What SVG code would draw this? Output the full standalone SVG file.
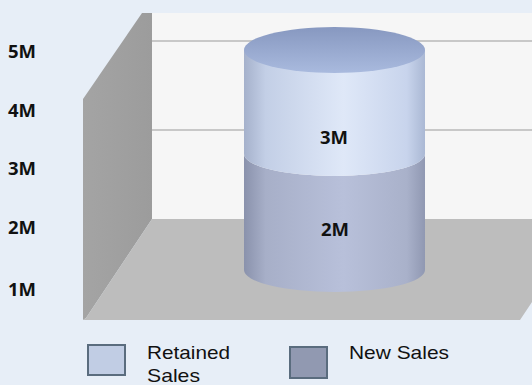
<svg xmlns="http://www.w3.org/2000/svg" width="532" height="385" viewBox="0 0 532 385">
  <style>
    .axis { font-family: "Open Sans", "DejaVu Sans", sans-serif; font-weight: bold; font-size: 18.5px; fill: #111; }
    .val { font-family: "Open Sans", "DejaVu Sans", sans-serif; font-weight: bold; font-size: 18.5px; fill: #111; text-anchor: middle; }
    .legend { font-family: "Liberation Sans", Arial, sans-serif; font-size: 19px; fill: #111; }
    .grid { stroke: #9a9a9a; stroke-width: 1.2; }
    .swatch { stroke: #5a6c7e; stroke-width: 2; }
  </style>
  <defs>
    <linearGradient id="retBody" x1="0" y1="0" x2="1" y2="0">
      <stop offset="0" stop-color="#a5b1cb"/>
      <stop offset="0.12" stop-color="#c3cfe6"/>
      <stop offset="0.55" stop-color="#dfe8f8"/>
      <stop offset="0.9" stop-color="#c8d4ec"/>
      <stop offset="1" stop-color="#aab8d4"/>
    </linearGradient>
    <linearGradient id="newBody" x1="0" y1="0" x2="1" y2="0">
      <stop offset="0" stop-color="#8a92ac"/>
      <stop offset="0.12" stop-color="#a7afc8"/>
      <stop offset="0.55" stop-color="#b8c0da"/>
      <stop offset="0.9" stop-color="#a9b1ca"/>
      <stop offset="1" stop-color="#9098b2"/>
    </linearGradient>
    <linearGradient id="topCap" x1="0" y1="0" x2="0" y2="1">
      <stop offset="0" stop-color="#8798c0"/>
      <stop offset="1" stop-color="#a9bade"/>
    </linearGradient>
    <linearGradient id="wallL" x1="0" y1="0" x2="1" y2="0">
      <stop offset="0" stop-color="#a4a4a4"/>
      <stop offset="1" stop-color="#9c9c9c"/>
    </linearGradient>
  </defs>

  <!-- page -->
  <rect x="0" y="0" width="532" height="385" fill="#e7eef7"/>

  <!-- chart box: back wall, side wall, floor -->
  <g id="walls">
    <rect x="152" y="13" width="380" height="206" fill="#f6f6f6"/>
    <polygon points="83,99 142,13 152,13 152,219 86,318 83,320" fill="url(#wallL)"/>
    <polygon points="152,219 532,219 532,302 520,320 83,320 86,318" fill="#bdbdbd"/>
    <line class="grid" x1="152" y1="41" x2="532" y2="41"/>
    <line class="grid" x1="152" y1="130" x2="532" y2="130"/>
  </g>

  <!-- value axis -->
  <g id="axis">
    <text class="axis" x="8" y="58">5M</text>
    <text class="axis" x="8" y="117">4M</text>
    <text class="axis" x="8" y="175">3M</text>
    <text class="axis" x="8" y="234">2M</text>
    <text class="axis" x="8" y="296">1M</text>
  </g>

  <!-- stacked cylinder -->
  <g id="new-sales">
    <path d="M244,154 A90.5,22 0 0 0 425,154 L425,270 A90.5,22 0 0 1 244,270 Z" fill="url(#newBody)"/>
    <text class="val" x="335" y="236">2M</text>
  </g>
  <g id="retained-sales">
    <path d="M244,50 L244,154 A90.5,22 0 0 0 425,154 L425,50 Z" fill="url(#retBody)"/>
    <ellipse cx="334.5" cy="50" rx="90.5" ry="23" fill="url(#topCap)"/>
    <text class="val" x="334" y="144">3M</text>
  </g>

  <!-- legend -->
  <g id="legend-retained">
    <rect class="swatch" x="88" y="345" width="37" height="30" fill="#c1cde4"/>
    <text class="legend" x="147" y="359" textLength="83" lengthAdjust="spacingAndGlyphs">Retained</text>
    <text class="legend" x="147" y="382" textLength="53" lengthAdjust="spacingAndGlyphs">Sales</text>
  </g>
  <g id="legend-new">
    <rect class="swatch" x="290" y="347" width="37" height="31" fill="#9199b1"/>
    <text class="legend" x="349" y="359" textLength="100" lengthAdjust="spacingAndGlyphs">New Sales</text>
  </g>
</svg>
